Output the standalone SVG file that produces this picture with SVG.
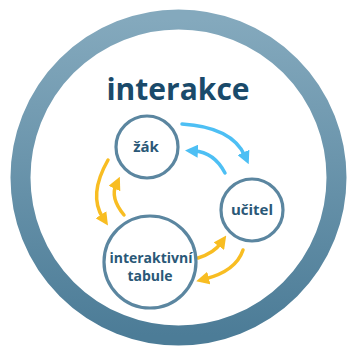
<svg xmlns="http://www.w3.org/2000/svg" width="348" height="347" viewBox="0 0 348 347">
  <defs>
    <linearGradient id="ringGrad" x1="0" y1="0" x2="0" y2="1">
      <stop offset="0" stop-color="#84a9bd"/>
      <stop offset="1" stop-color="#4c7c97"/>
    </linearGradient>
    <marker id="headBlue" viewBox="0 0 10 10" refX="3" refY="5" markerWidth="13" markerHeight="13" markerUnits="userSpaceOnUse" orient="auto">
      <path d="M0 0 L10 5 L0 10 Z" fill="#4dbff4"/>
    </marker>
    <marker id="headGold" viewBox="0 0 10 10" refX="3" refY="5" markerWidth="13" markerHeight="13" markerUnits="userSpaceOnUse" orient="auto">
      <path d="M0 0 L10 5 L0 10 Z" fill="#f8bd22"/>
    </marker>
  </defs>
  <style>
    .node circle { fill: #ffffff; stroke: #5b86a0; stroke-width: 3.2; }
    .label { font-family: "Open Sans", "Noto Sans", sans-serif; font-weight: bold; fill: #2a5877; text-anchor: middle; }
    .title { font-family: "Open Sans", "Noto Sans", sans-serif; font-weight: bold; font-size: 30px; fill: #1a4a6a; text-anchor: middle; }
    .blue { fill: none; stroke: #4dbff4; stroke-width: 3.5; stroke-linecap: round; marker-end: url(#headBlue); }
    .gold { fill: none; stroke: #f8bd22; stroke-width: 3.5; stroke-linecap: round; marker-end: url(#headGold); }
  </style>

  <rect width="348" height="347" fill="#ffffff"/>

  <!-- outer ring -->
  <circle cx="178.5" cy="177.5" r="158" fill="none" stroke="url(#ringGrad)" stroke-width="20"/>

  <text class="title" x="178" y="100">interakce</text>

  <!-- connectors -->
  <g id="connectors">
    <path class="blue" d="M182 124 Q232 127 245 156"/>
    <path class="blue" d="M225 173 Q214 152 194 151"/>
    <path class="gold" d="M108 160 Q88 195 103 218"/>
    <path class="gold" d="M124 215 Q110 198 116 185"/>
    <path class="gold" d="M198 258 Q214 253 221 243"/>
    <path class="gold" d="M243 250 Q236 271 205 279"/>
  </g>

  <g id="node-zak" class="node">
    <circle cx="147" cy="147" r="31"/>
    <text class="label" x="146" y="152" font-size="15">žák</text>
  </g>

  <g id="node-ucitel" class="node">
    <circle cx="252" cy="210" r="31"/>
    <text class="label" x="252" y="215" font-size="15">učitel</text>
  </g>

  <g id="node-tabule" class="node">
    <circle cx="150" cy="262" r="46"/>
    <text class="label" x="151" y="263" font-size="14">interaktivní</text>
    <text class="label" x="150" y="281" font-size="14">tabule</text>
  </g>
</svg>
